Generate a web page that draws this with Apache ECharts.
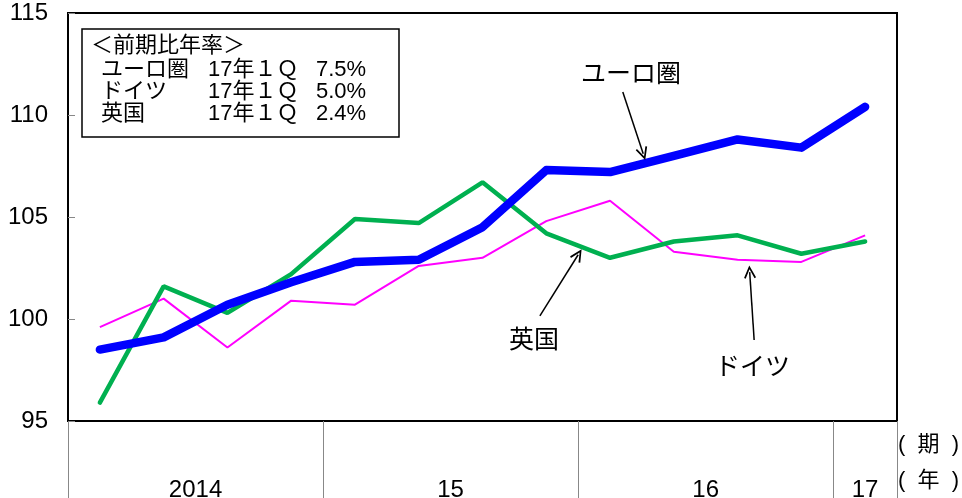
<!DOCTYPE html>
<html><head><meta charset="utf-8">
<script src="https://cdn.jsdelivr.net/npm/echarts@6/dist/echarts.min.js"></script>
<style>html,body{margin:0;padding:0;background:#fff}#c{width:962px;height:498px}</style>
</head><body><div id="c"></div>
<script>
// ---- data ----
const quarters = ['2014Q1','2014Q2','2014Q3','2014Q4','2015Q1','2015Q2','2015Q3','2015Q4','2016Q1','2016Q2','2016Q3','2016Q4','2017Q1'];
const euroArea = [98.5, 99.1, 100.7, 101.8, 102.8, 102.9, 104.5, 107.3, 107.2, 108.0, 108.8, 108.4, 110.4];
const germany  = [99.6, 101.0, 98.6, 100.9, 100.7, 102.6, 103.0, 104.8, 105.8, 103.3, 102.9, 102.8, 104.1];
const uk       = [95.9, 101.6, 100.3, 102.2, 104.9, 104.7, 106.7, 104.2, 103.0, 103.8, 104.1, 103.2, 103.8];
const yearLabels = ['2014', '15', '16', '17'];
const quartersPerYear = [4, 4, 4, 1];
const yTicks = [95, 100, 105, 110, 115];
const legendTitle = '＜前期比年率＞';
const legendNames = ['ユーロ圏', 'ドイツ', '英国'];
const legendPeriod = ['17年１Ｑ', '17年１Ｑ', '17年１Ｑ'];
const legendRates = ['7.5%', '5.0%', '2.4%'];
// annotation arrows in data space [x index, value]
const arrowEuro = [[8.20, 111.13], [8.52, 108.1]];
const arrowUK   = [[6.90, 100.15], [7.50, 103.15]];
const arrowDE   = [[10.26, 98.97], [10.19, 102.3]];

// ---- year axis built from labels ----
const yearAxisData = new Array(27).fill('');
const yearTickIdx = [0];
let start = 0;
quartersPerYear.forEach((n, i) => {
  yearAxisData[start * 2 + n] = yearLabels[i];
  start += n;
  yearTickIdx.push(start * 2);
});
yearTickIdx.push(26);

const FONT = "'Liberation Sans', 'Noto Sans CJK JP', sans-serif";
const chevron = 'path://M5,0 L10,9 L8.7,9.7 L5,2.8 L1.3,9.7 L0,9 Z';

const chart = echarts.init(document.getElementById('c'), null, {renderer: 'canvas'});
const legendRows = legendNames.map((n, i) => [
  {type: 'text', left: 101, top: 59 + i * 22, style: {text: n, font: '22px ' + FONT, fill: '#000'}},
  {type: 'text', left: 208, top: 59 + i * 22, style: {text: legendPeriod[i], font: '22px ' + FONT, fill: '#000'}},
  {type: 'text', left: 316, top: 59 + i * 22, style: {text: legendRates[i], font: '22px ' + FONT, fill: '#000'}}
]).flat();

chart.setOption({
  animation: false,
  grid: {left: 68, right: 65, top: 13, bottom: 77, show: true, borderColor: '#000', borderWidth: 2,
         containLabel: false, outerBoundsMode: 'none'},
  xAxis: [
    {type: 'category', data: quarters, boundaryGap: true, position: 'bottom',
     axisLine: {show: true, onZero: false, lineStyle: {color: '#000', width: 2}}, axisTick: {show: false}, axisLabel: {show: false}},
    {type: 'category', data: yearAxisData, boundaryGap: false, position: 'bottom',
     axisLine: {show: false, onZero: false},
     axisTick: {show: true, length: 80, interval: (idx) => yearTickIdx.includes(idx), lineStyle: {color: '#888', width: 1}},
     axisLabel: {show: true, interval: (idx, v) => v !== '', margin: 57, fontSize: 24, color: '#000', fontFamily: FONT}},
    {type: 'value', min: -0.5, max: 12.5, show: false}
  ],
  yAxis: {type: 'value', min: yTicks[0], max: yTicks[yTicks.length - 1], interval: 5,
    axisLine: {show: true, onZero: false, lineStyle: {color: '#000', width: 2}},
    axisTick: {show: true, inside: true, length: 7, lineStyle: {color: '#888'}},
    axisLabel: {fontSize: 24, color: '#000', margin: 20, fontFamily: FONT},
    splitLine: {show: false}},
  series: [
    {name: 'ドイツ', type: 'line', data: germany, symbol: 'none', xAxisIndex: 0,
     lineStyle: {color: '#FF00FF', width: 2}},
    {name: '英国', type: 'line', data: uk, symbol: 'none', xAxisIndex: 0,
     lineStyle: {color: '#00B050', width: 4.5, cap: 'round'}},
    {name: 'ユーロ圏', type: 'line', data: euroArea, symbol: 'none', xAxisIndex: 0,
     lineStyle: {color: '#0000FF', width: 8.5, cap: 'round', join: 'round'}},
    {name: 'annot', type: 'line', data: [], xAxisIndex: 2, yAxisIndex: 0, symbol: 'none',
     markLine: {silent: true, symbol: ['none', chevron], symbolSize: [12, 13],
       lineStyle: {color: '#000', width: 1.5, type: 'solid'}, label: {show: false},
       emphasis: {disabled: true},
       data: [arrowEuro, arrowUK, arrowDE].map(a => [{coord: a[0]}, {coord: a[1]}])}}
  ],
  graphic: [
    {type: 'rect', shape: {x: 82, y: 29, width: 317, height: 108}, style: {fill: '#fff', stroke: '#000', lineWidth: 1.5}},
    {type: 'text', left: 91, top: 35, style: {text: legendTitle, font: '22px ' + FONT, fill: '#000'}},
    ...legendRows,
    {type: 'text', left: 581, top: 63, style: {text: 'ユーロ圏', font: '25px ' + FONT, fill: '#000'}},
    {type: 'text', left: 509, top: 329, style: {text: '英国', font: '25px ' + FONT, fill: '#000'}},
    {type: 'text', left: 715, top: 356, style: {text: 'ドイツ', font: '25px ' + FONT, fill: '#000'}},
    {type: 'text', left: 898, top: 434, style: {text: '(  期  )', font: '22px ' + FONT, fill: '#000'}},
    {type: 'text', left: 898, top: 470, style: {text: '(  年  )', font: '22px ' + FONT, fill: '#000'}}
  ]
});
</script></body></html>
